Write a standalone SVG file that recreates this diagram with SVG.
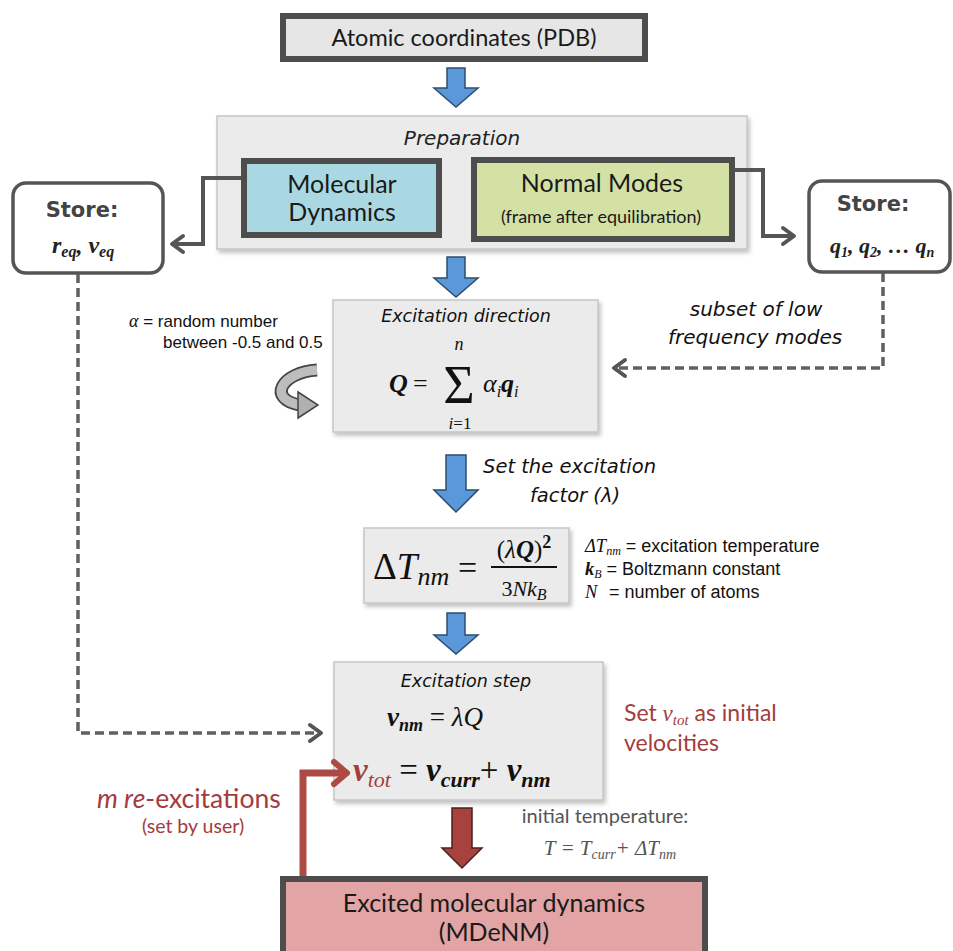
<svg xmlns="http://www.w3.org/2000/svg" width="953" height="951" viewBox="0 0 953 951">
<defs>
<filter id="sh" x="-10%" y="-10%" width="130%" height="130%"><feDropShadow dx="2" dy="3" stdDeviation="2" flood-color="#000" flood-opacity="0.25"/></filter>
<marker id="chev" markerUnits="userSpaceOnUse" markerWidth="16" markerHeight="20" refX="12" refY="9" orient="auto" overflow="visible">
<path d="M1,1 L12,9 L1,17" fill="none" stroke="#555" stroke-width="4" stroke-dasharray="none" stroke-linecap="round" stroke-linejoin="round"/>
</marker>
<marker id="chevred" markerUnits="userSpaceOnUse" markerWidth="20" markerHeight="26" refX="14" refY="12" orient="auto" overflow="visible">
<path d="M1,1 L14,12 L1,23" fill="none" stroke="#ae4a44" stroke-width="6" stroke-linecap="round" stroke-linejoin="round"/>
</marker>
</defs>
<style>
.sans{font-family:Lato,"Noto Sans","Liberation Sans",sans-serif;}
.hand{font-family:"DejaVu Sans","Open Sans",sans-serif;font-style:italic;}
.store{font-family:"DejaVu Sans","Open Sans",sans-serif;font-weight:bold;font-size:21px;fill:#444;}
.arial{font-family:"Liberation Sans",Arial,sans-serif;}
.math{font-family:"Liberation Serif","DejaVu Serif",serif;}
.thick{stroke:#4d4d4d;stroke-width:6;}
.gbox{fill:#ebebeb;stroke:#c6c6c6;stroke-width:1.5;filter:url(#sh);}
.blue{fill:#5b98d9;stroke:#2d4d70;stroke-width:1.5;}
.conn{fill:none;stroke:#555;stroke-width:4;}
.dash{fill:none;stroke:#606060;stroke-width:3.5;stroke-dasharray:9 5;}
.red{fill:#a33c3c;}
</style>
<rect width="953" height="951" fill="#fff"/>

<g id="pdb">
<rect x="283" y="16" width="362" height="43" fill="#e6e6e6" class="thick"/>
<text x="464" y="46" class="sans" font-size="23.5" text-anchor="middle" fill="#1a1a1a">Atomic coordinates (PDB)</text>
</g>

<g id="preparation">
<rect x="217" y="116" width="530" height="133" class="gbox"/>
<text x="462" y="145" class="hand" font-size="20" text-anchor="middle" fill="#222">Preparation</text>
</g>

<g id="md">
<rect x="244" y="161" width="195" height="74" fill="#a9d8e2" class="thick"/>
<text x="342" y="193" class="sans" font-size="25" text-anchor="middle" fill="#1a1a1a">Molecular</text>
<text x="342" y="221" class="sans" font-size="25" text-anchor="middle" fill="#1a1a1a">Dynamics</text>
</g>

<g id="nm">
<rect x="474" y="160" width="258" height="79" fill="#d4e1a5" class="thick"/>
<text x="602" y="192" class="sans" font-size="25" text-anchor="middle" fill="#1a1a1a">Normal Modes</text>
<text x="601" y="223" class="sans" font-size="18" text-anchor="middle" fill="#1a1a1a">(frame after equilibration)</text>
</g>

<g id="store-left">
<rect x="13" y="183" width="150" height="90" rx="13" fill="#fff" stroke="#555" stroke-width="3.5"/>
<text x="82" y="217" class="store" text-anchor="middle">Store:</text>
<text x="52" y="253" class="math" font-size="24" font-weight="bold" font-style="italic" fill="#222">r<tspan font-size="16" dy="4">eq</tspan><tspan dy="-4">, v</tspan><tspan font-size="16" dy="4">eq</tspan></text>
</g>

<g id="store-right">
<rect x="809" y="181" width="141" height="91" rx="13" fill="#fff" stroke="#555" stroke-width="3.5"/>
<text x="873" y="211" class="store" text-anchor="middle">Store:</text>
<text x="830" y="253" class="math" font-size="22" font-weight="bold" font-style="italic" fill="#222">q<tspan font-size="14" dy="4">1</tspan><tspan dy="-4">, q</tspan><tspan font-size="14" dy="4">2</tspan><tspan dy="-4">, … q</tspan><tspan font-size="14" dy="4">n</tspan></text>
</g>

<g id="subset-label">
<text x="756" y="316" class="hand" font-size="20" text-anchor="middle" fill="#111">subset of low</text>
<text x="755" y="344" class="hand" font-size="20" text-anchor="middle" fill="#111">frequency modes</text>
</g>

<g id="alpha-label">
<text x="129" y="327" class="arial" font-size="17" fill="#111"><tspan class="math" font-style="italic" font-size="18">α</tspan> = random number</text>
<text x="163" y="348" class="arial" font-size="17" fill="#111">between -0.5 and 0.5</text>
</g>

<g id="excitation-direction">
<rect x="333" y="300" width="265" height="132" class="gbox"/>
<text x="466" y="322" class="hand" font-size="17.5" text-anchor="middle" fill="#111">Excitation direction</text>
<g class="math" fill="#111">
<text x="389" y="392" font-size="26" font-weight="bold" font-style="italic">Q</text>
<text x="413" y="392" font-size="26">=</text>
<text x="459" y="350" font-size="18" font-style="italic" text-anchor="middle">n</text>
<text x="459" y="403" font-size="54" text-anchor="middle">Σ</text>
<text x="460" y="429" font-size="17" text-anchor="middle"><tspan font-style="italic">i</tspan>=1</text>
<text x="483" y="392" font-size="26" font-style="italic">α<tspan font-size="16" dy="5">i</tspan><tspan dy="-5" font-weight="bold">q</tspan><tspan font-size="16" dy="5">i</tspan></text>
</g>
</g>

<g id="lambda-label">
<text x="483" y="473" class="hand" font-size="19.5" fill="#111">Set the excitation</text>
<text x="530" y="502" class="hand" font-size="19.5" fill="#111">factor (λ)</text>
</g>

<g id="delta-t">
<rect x="364" y="528" width="205" height="75" class="gbox"/>
<g class="math" fill="#111">
<text x="373" y="579" font-size="37">Δ<tspan font-style="italic">T</tspan><tspan font-style="italic" font-size="26" dy="6">nm</tspan></text>
<text x="458" y="579" font-size="34">=</text>
<text x="524" y="558" font-size="25" text-anchor="middle">(<tspan font-style="italic">λ</tspan><tspan font-weight="bold" font-style="italic">Q</tspan>)<tspan font-weight="bold" font-size="18" dy="-10">2</tspan></text>
<line x1="491" y1="567" x2="557" y2="567" stroke="#111" stroke-width="2"/>
<text x="524" y="596" font-size="22" text-anchor="middle">3<tspan font-style="italic">Nk</tspan><tspan font-style="italic" font-size="16" dy="4">B</tspan></text>
</g>
</g>

<g id="delta-legend" class="arial" fill="#111" font-size="18">
<text x="585" y="552"><tspan class="math" font-style="italic" font-size="18.5">ΔT</tspan><tspan class="math" font-style="italic" font-size="12" dy="3">nm</tspan><tspan dy="-3"> = excitation temperature</tspan></text>
<text x="585" y="575"><tspan class="math" font-style="italic" font-weight="bold" font-size="18.5">k</tspan><tspan class="math" font-style="italic" font-size="12" dy="3">B</tspan><tspan dy="-3"> = Boltzmann constant</tspan></text>
<text x="585" y="598"><tspan class="math" font-style="italic" font-size="18.5">N</tspan><tspan x="609">= number of atoms</tspan></text>
</g>

<g id="excitation-step">
<rect x="334" y="662" width="269" height="138" class="gbox"/>
<text x="466" y="687" class="hand" font-size="17.5" text-anchor="middle" fill="#111">Excitation step</text>
<text x="387" y="726" class="math" font-size="27" fill="#111"><tspan font-weight="bold" font-style="italic">v</tspan><tspan font-weight="bold" font-style="italic" font-size="18" dy="5">nm</tspan><tspan dy="-5"> = </tspan><tspan font-style="italic">λQ</tspan></text>
<text x="353" y="781" class="math" font-size="33" fill="#111"><tspan class="red" font-weight="bold" font-style="italic">v</tspan><tspan class="red" font-style="italic" font-size="22" dy="6">tot</tspan><tspan dy="-6"> = </tspan><tspan font-weight="bold" font-style="italic">v</tspan><tspan font-weight="bold" font-style="italic" font-size="22" dy="6">curr</tspan><tspan dy="-6">+ </tspan><tspan font-weight="bold" font-style="italic">v</tspan><tspan font-weight="bold" font-style="italic" font-size="22" dy="6">nm</tspan></text>
</g>

<g id="vtot-label" class="sans red" font-size="23">
<text x="624" y="721">Set <tspan class="math" font-style="italic">v</tspan><tspan class="math" font-style="italic" font-size="15" dy="4">tot</tspan><tspan dy="-4"> as initial</tspan></text>
<text x="624" y="751">velocities</text>
</g>

<g id="reexcite-label" class="sans red">
<text x="97" y="808" font-size="26.5"><tspan font-style="italic">m re</tspan>-excitations</text>
<text x="193" y="833" font-size="19.5" text-anchor="middle">(set by user)</text>
</g>

<g id="temp-label" fill="#555">
<text x="605" y="823" class="sans" font-size="20" text-anchor="middle">initial temperature:</text>
<text x="610" y="855" class="math" font-size="21" font-style="italic" text-anchor="middle">T = T<tspan font-size="14" dy="4">curr</tspan><tspan dy="-4">+ ΔT</tspan><tspan font-size="14" dy="4">nm</tspan></text>
</g>

<g id="mdenm">
<rect x="283" y="879" width="422" height="80" fill="#e2a4a4" class="thick"/>
<text x="494" y="912" class="sans" font-size="25" text-anchor="middle" fill="#1a1a1a">Excited molecular dynamics</text>
<text x="494" y="941" class="sans" font-size="25" text-anchor="middle" fill="#1a1a1a">(MDeNM)</text>
</g>

<g id="connectors">
<path class="conn" d="M241,178 H203 V244 H172" marker-end="url(#chev)"/>
<path class="conn" d="M734,170 H763 V236 H794" marker-end="url(#chev)"/>
<path class="dash" d="M78,274 V733 H321" marker-end="url(#chev)"/>
<path class="dash" d="M883,273 V368 H614" marker-end="url(#chev)"/>
<path d="M303,876 V773 H347" fill="none" stroke="#ae4a44" stroke-width="7" marker-end="url(#chevred)"/>
<path class="blue" d="M447,68 H465 V88 H478 L456,107 L434,88 H447 Z"/>
<path class="blue" d="M447,257 H465 V278 H478 L456,297 L434,278 H447 Z"/>
<path class="blue" d="M446,455 H466 V490 H478 L456,512 L434,490 H446 Z"/>
<path class="blue" d="M447,613 H465 V635 H478 L456,654 L434,635 H447 Z"/>
<path d="M452,808 H472 V848 H482 L462,868 L442,848 H452 Z" fill="#a8423e" stroke="#4a2020" stroke-width="1.5"/>
<path d="M317,370 C 282,372 266,399 300,405" fill="none" stroke="#444" stroke-width="13"/>
<path d="M317,370 C 282,372 266,399 300,405" fill="none" stroke="#bdbdbd" stroke-width="9.5"/>
<polygon points="298,392 318,405 298,418" fill="#b0b0b0" stroke="#444" stroke-width="1.5"/>
</g>
</svg>
